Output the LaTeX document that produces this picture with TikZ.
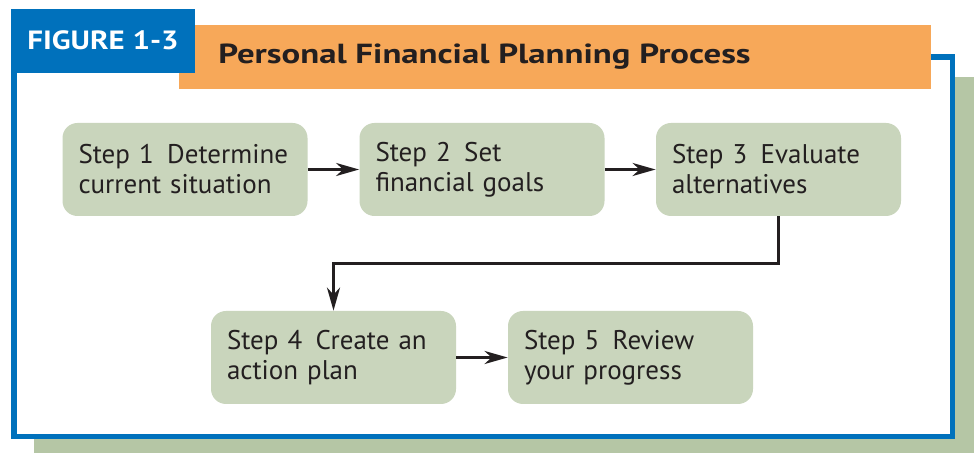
\documentclass[tikz,border=0pt]{standalone}
\usepackage{fontspec}
\setmainfont{PT Sans}
\newfontfamily\fignumfont[FakeStretch=1.17]{PT Sans}
\newfontfamily\figtitlefont[FakeStretch=1.26]{PT Sans}
\usepackage{tikz}
\usetikzlibrary{arrows.meta}

\definecolor{figblue}{HTML}{0071BC}
\definecolor{figorange}{HTML}{F7A859}
\definecolor{stepgreen}{HTML}{C9D5BC}
\definecolor{shadowgreen}{HTML}{B5C6A5}
\definecolor{inktext}{HTML}{231F20}

\tikzset{
  stepbox/.style={rectangle, rounded corners=7.5pt, fill=stepgreen, minimum width=122.5pt,
    minimum height=46.5pt, text width=106.5pt, align=left, inner xsep=8pt, inner ysep=0pt,
    font=\fontsize{13.5}{15}\selectfont, text=inktext},
  flowarrow/.style={draw=inktext, line width=1.5pt, -{Stealth[length=11.5pt, width=6.5pt, inset=3.5pt]}}
}

\begin{document}
\begin{tikzpicture}[x=0.5pt, y=-0.5pt]
  \useasboundingbox (0,0) rectangle (974,453);
  % Frame
  \fill[shadowgreen] (34,77) rectangle (974,453);
  \draw[figblue, line width=2.7pt, fill=white] (14,57) rectangle (952.5,436.5);
  \fill[figorange] (179,25) rectangle (931,89);
  \fill[figblue] (11,9) rectangle (195,73);
  % Titles
  \node[anchor=base west, inner sep=0pt, text=white, font=\fignumfont\bfseries\fontsize{13.2}{15}\selectfont] (fignum) at (27,50) {FIGURE\ 1-3};
  \node[anchor=base west, inner sep=0pt, text=inktext, font=\figtitlefont\bfseries\fontsize{13.8}{15}\selectfont] (figtitle) at (218,64) {Personal Financial Planning Process};
  % Steps
  \foreach \i/\x/\y/\txt in {1/185/169.5/{Step 1\enspace Determine\\current situation},
                              2/482/169.5/{Step 2\enspace Set\\financial goals},
                              3/778.5/169.5/{Step 3\enspace Evaluate\\alternatives},
                              4/333.5/357.5/{Step 4\enspace Create an\\action plan},
                              5/630.5/357.5/{Step 5\enspace Review\\your progress}} {
    \node[stepbox] (s\i) at (\x,\y) {\txt};
  }
  % Arrows
  \draw[flowarrow] (s1) -- (s2);
  \draw[flowarrow] (s2) -- (s3);
  \draw[flowarrow] (s3.south) -- ++(0,47) -| (s4.north);
  \draw[flowarrow] (s4) -- (s5);
\end{tikzpicture}
\end{document}
